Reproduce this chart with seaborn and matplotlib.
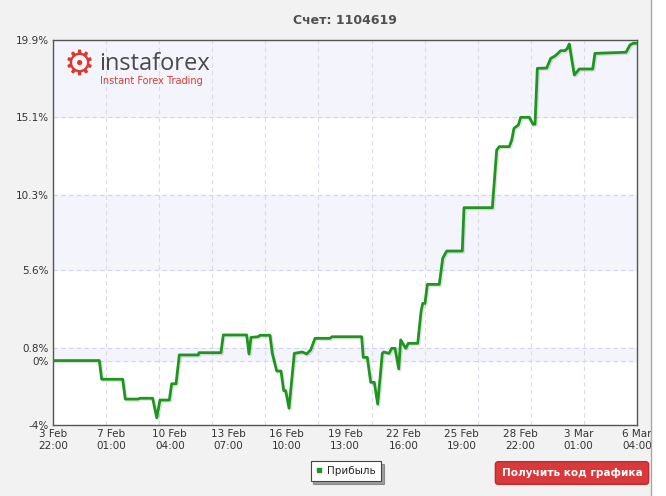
import numpy as np
import pandas as pd
import matplotlib
matplotlib.use("Agg")
import matplotlib.pyplot as plt
import matplotlib.patheffects as pe
from matplotlib.lines import Line2D
from matplotlib.patches import Rectangle
import seaborn as sns

# hours since 3 Feb 22:00 and account profit (%)
hours = [0, 59.5, 62.5, 89.5, 92.8, 109.2, 111.7, 128.0, 133.2, 137.4,
         149.4, 152.4, 158.0, 162.2, 186.6, 187.5, 215.7, 218.7, 248.7, 251.7,
         254.3, 263.6, 265.8, 278.7, 281.6, 287.3, 292.8, 296.3, 298.8, 303.1,
         309.9, 320.2, 325.8, 330.9, 336.5, 355.7, 358.3, 396.4, 398.4, 403.6,
         408.0, 412.6, 417.0, 422.9, 424.7, 431.5, 435.0, 439.2, 444.0, 446.5,
         452.9, 456.3, 468.4, 472.6, 474.8, 477.7, 480.7, 496.1, 500.5, 505.6,
         525.6, 527.8, 564.2, 569.8, 573.2, 586.0, 589.1, 592.0, 597.6, 600.6,
         611.7, 616.4, 619.0, 622.0, 634.0, 639.2, 644.7, 647.6, 652.0, 657.5,
         660.5, 663.0, 669.5, 675.9, 693.1, 696.0, 735.9, 741.0, 745.2, 750]
profit = [0.0, 0.0, -1.16, -1.16, -2.39, -2.39, -2.34, -2.34, -3.55, -2.45,
          -2.45, -1.44, -1.44, 0.35, 0.35, 0.49, 0.49, 1.59, 1.59, 0.41,
          1.44, 1.48, 1.57, 1.57, 0.45, -0.65, -0.65, -1.87, -1.87, -2.96,
          0.45, 0.53, 0.41, 0.66, 1.38, 1.38, 1.48, 1.48, 0.20, 0.20,
          -1.35, -1.35, -2.70, 0.45, 0.53, 0.45, 0.76, 0.76, -0.52, 1.28,
          0.76, 1.07, 1.07, 3.03, 3.55, 3.55, 4.73, 4.73, 6.35, 6.80,
          6.80, 9.49, 9.49, 13.07, 13.28, 13.28, 13.69, 14.42, 14.62, 15.10,
          15.10, 14.67, 14.67, 18.14, 18.16, 18.76, 18.91, 19.03, 19.24, 19.24,
          19.38, 19.65, 17.73, 18.10, 18.10, 19.07, 19.14, 19.59, 19.70, 19.70]

y_ticks = [-4, 0, 0.8, 5.6, 10.3, 15.1, 19.9]
y_labels = ["-4%", "0%", "0.8%", "5.6%", "10.3%", "15.1%", "19.9%"]
x_ticks = [0, 75, 150, 225, 300, 375, 450, 525, 600, 675, 750]
x_labels = ["3 Feb\n22:00", "7 Feb\n01:00", "10 Feb\n04:00", "13 Feb\n07:00",
            "16 Feb\n10:00", "19 Feb\n13:00", "22 Feb\n16:00", "25 Feb\n19:00",
            "28 Feb\n22:00", "3 Mar\n01:00", "6 Mar\n04:00"]

df = pd.DataFrame({"hours": hours, "profit": profit})

sns.set_theme(style="white")
plt.rcParams["font.family"] = ["DejaVu Sans"]

green = "#1e961e"
fig = plt.figure(figsize=(6.66, 4.96), dpi=100, facecolor="#f2f2f2")
fig.add_artist(Rectangle((652 / 666, 0), 14 / 666, 1, transform=fig.transFigure,
                         facecolor="white", edgecolor="none"))
fig.add_artist(Line2D([651 / 666, 651 / 666], [0, 1], transform=fig.transFigure,
                      color="#a8a8a8", lw=1))

ax = fig.add_axes([53 / 666, 1 - 425 / 496, 584 / 666, 385 / 496])
ax.set_facecolor("white")

# alternating bands + dashed grid
for lo, hi in [(0, 0.8), (5.6, 10.3), (15.1, 19.9)]:
    ax.axhspan(lo, hi, color="#f4f4fd", zorder=0)
for yv in [0, 0.8, 5.6, 10.3, 15.1]:
    ax.axhline(yv, color="#d4d4f2", lw=0.8, ls=(0, (4, 3)), zorder=1)
for xv in np.arange(1, 11) * 750 / 11:
    ax.axvline(xv, color="#dcdce8", lw=0.8, ls=(0, (4, 3)), zorder=1)

sns.lineplot(data=df, x="hours", y="profit", ax=ax, color=green, lw=2,
             estimator=None, sort=False, legend=False, zorder=3,
             path_effects=[pe.SimpleLineShadow(offset=(1, -1), alpha=0.12),
                           pe.Normal()])

ax.set_xlim(0, 750)
ax.set_ylim(-4, 19.9)
ax.set_yticks(y_ticks)
ax.set_yticklabels(y_labels)
ax.set_xticks(x_ticks)
ax.set_xticklabels(x_labels)
ax.tick_params(axis="both", length=0, labelsize=7.5, labelcolor="#333333", pad=3)
ax.set_xlabel("")
ax.set_ylabel("")
for s in ax.spines.values():
    s.set_color("#555555")
    s.set_linewidth(1)

fig.text(345 / 666, 1 - 20 / 496, "Счет: 1104619", ha="center", va="center",
         fontsize=9, fontweight="bold", color="#505050")

# logo
fig.text(79 / 666, 1 - 66 / 496, "\u2699", ha="center", va="center",
         fontsize=25, color="#d93a2f")
fig.text(99 / 666, 1 - 70 / 496, "instaforex", ha="left", va="baseline",
         fontsize=17, color="#4a4a4a", family="Open Sans")
fig.text(100 / 666, 1 - 76 / 496, "Instant Forex Trading", ha="left", va="top",
         fontsize=7, color="#d93a2f")

# legend
handle = Line2D([], [], marker="s", color=green, ls="", markersize=3)
leg = fig.legend([handle], ["Прибыль"], loc="center",
                 bbox_to_anchor=(346 / 666, 1 - 471 / 496), fontsize=7.5,
                 frameon=True, fancybox=False, shadow=True, handlelength=0.6,
                 handletextpad=0.5, borderpad=0.5)
leg.get_frame().set_edgecolor("#444444")
leg.get_frame().set_linewidth(0.8)

# button
fig.text(572 / 666, 1 - 473 / 496, "Получить код графика", ha="center", va="center",
         fontsize=7.6, fontweight="bold", color="white",
         bbox=dict(boxstyle="round,pad=0.6,rounding_size=0.3", fc="#d8393b",
                   ec="#c42a2c"))

fig.savefig("out.png", dpi=100, facecolor=fig.get_facecolor())
